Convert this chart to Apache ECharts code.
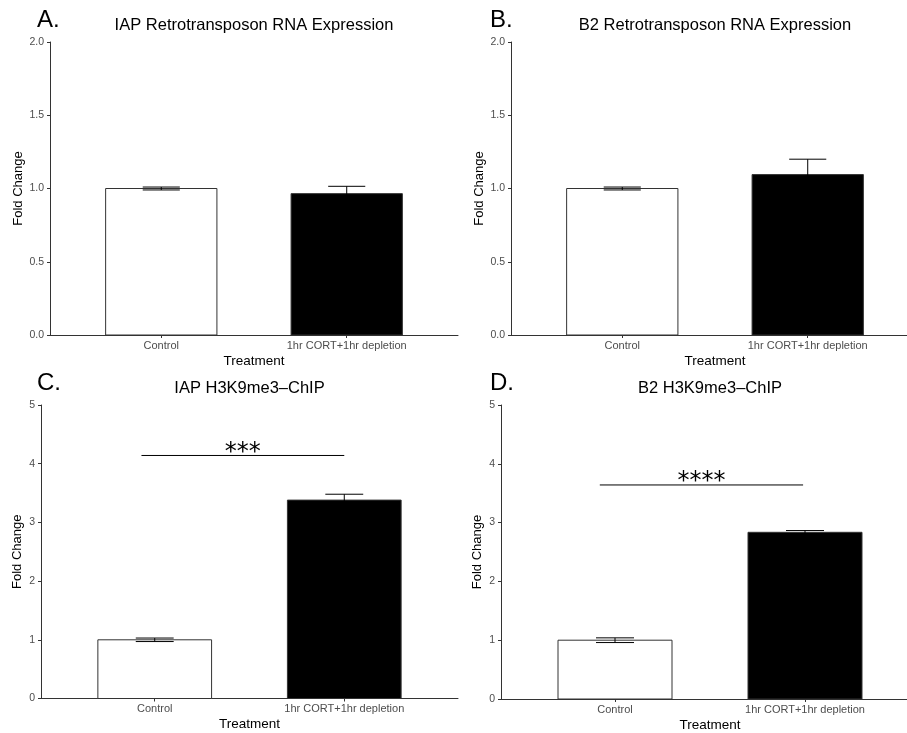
<!DOCTYPE html>
<html>
<head>
<meta charset="utf-8">
<script src="https://cdn.jsdelivr.net/npm/echarts@6/dist/echarts.min.js"></script>
<style>html,body{margin:0;padding:0;background:#fff;}#chart{width:907px;height:733px;}</style>
</head>
<body>
<div id="chart"></div>
<script>
// ---- data ----
const categories = ['Control', '1hr CORT+1hr depletion'];
const catPositions = [1, 2];
const panelLetters = ['A.', 'B.', 'C.', 'D.'];
const panelTitles = ['IAP Retrotransposon RNA Expression', 'B2 Retrotransposon RNA Expression', 'IAP H3K9me3\u2013ChIP', 'B2 H3K9me3\u2013ChIP'];
const iapRnaMean = [1.00, 0.965];
const iapRnaSE = [0.01, 0.05];
const b2RnaMean = [1.00, 1.095];
const b2RnaSE = [0.01, 0.105];
const iapChipMean = [1.00, 3.38];
const iapChipSE = [0.03, 0.10];
const b2ChipMean = [1.00, 2.835];
const b2ChipSE = [0.04, 0.03];
const rnaTicks = [0, 0.5, 1.0, 1.5, 2.0];
const chipTicks = [0, 1, 2, 3, 4, 5];
// significance brackets: [x start, x end, y, label]
const iapChipSig = [0.93, 2.0, 4.14, '***'];
const b2ChipSig = [0.92, 1.99, 3.64, '****'];

const FONT = 'Liberation Sans';
const BAR_HALF = 0.3;
const ERR_HALF = 0.1;
const barFills = ['#ffffff', '#000000'];

const panels = [
  {mean: iapRnaMean, se: iapRnaSE, ticks: rnaTicks, dec: 1, grid: {left: 50, top: 42, width: 408, height: 293}, nameGap: 25, sig: null},
  {mean: b2RnaMean, se: b2RnaSE, ticks: rnaTicks, dec: 1, grid: {left: 511, top: 42, width: 408, height: 293}, nameGap: 25, sig: null},
  {mean: iapChipMean, se: iapChipSE, ticks: chipTicks, dec: 0, grid: {left: 41, top: 405, width: 417, height: 293.5}, nameGap: 17, sig: iapChipSig},
  {mean: b2ChipMean, se: b2ChipSE, ticks: chipTicks, dec: 0, grid: {left: 501, top: 405, width: 418, height: 294}, nameGap: 17, sig: b2ChipSig}
];

const grids = [], xAxes = [], yAxes = [], series = [], graphics = [];
panels.forEach((p, i) => {
  grids.push(Object.assign({outerBoundsMode: 'none', containLabel: false}, p.grid));
  xAxes.push({
    type: 'value', gridIndex: i, min: 0.4, max: 2.6,
    name: 'Treatment', nameLocation: 'middle', nameGap: 19,
    nameTextStyle: {fontFamily: FONT, fontSize: 13.5, color: '#000'},
    axisLine: {show: true, onZero: false, lineStyle: {color: '#333', width: 1}},
    axisTick: {show: true, customValues: catPositions, length: 3, lineStyle: {color: '#333'}},
    axisLabel: {customValues: catPositions, margin: 5, fontFamily: FONT, fontSize: 11, color: '#4d4d4d',
      formatter: v => categories[Math.round(v) - 1]},
    splitLine: {show: false}
  });
  const tmax = p.ticks[p.ticks.length - 1];
  yAxes.push({
    type: 'value', gridIndex: i, min: p.ticks[0], max: tmax, interval: p.ticks[1] - p.ticks[0],
    name: 'Fold Change', nameLocation: 'middle', nameGap: p.nameGap,
    nameTextStyle: {fontFamily: FONT, fontSize: 13, color: '#000'},
    axisLine: {show: true, lineStyle: {color: '#333', width: 1}},
    axisTick: {show: true, length: 3, lineStyle: {color: '#333'}},
    axisLabel: {margin: 6, fontFamily: FONT, fontSize: 10.5, color: '#4d4d4d', formatter: v => v.toFixed(p.dec)},
    splitLine: {show: false}
  });
  const data = catPositions.map((x, k) => [x, p.mean[k], p.se[k]]);
  series.push({
    type: 'custom', xAxisIndex: i, yAxisIndex: i, data: data, z: 2,
    renderItem: (params, api) => {
      const x = api.value(0), y = api.value(1);
      const a = api.coord([x - BAR_HALF, y]);
      const b = api.coord([x + BAR_HALF, 0]);
      return {type: 'rect', shape: {x: a[0], y: a[1], width: b[0] - a[0], height: b[1] - a[1]},
        style: {fill: barFills[params.dataIndex], stroke: '#333', lineWidth: 1}};
    }
  });
  series.push({
    type: 'custom', xAxisIndex: i, yAxisIndex: i, data: data, z: 3,
    renderItem: (params, api) => {
      const x = api.value(0), y = api.value(1), e = api.value(2);
      const top = api.coord([x, y + e]), bot = api.coord([x, y - e]);
      const l = api.coord([x - ERR_HALF, y])[0], r = api.coord([x + ERR_HALF, y])[0];
      const st = {stroke: '#000', lineWidth: 1};
      return {type: 'group', children: [
        {type: 'line', shape: {x1: top[0], y1: top[1], x2: bot[0], y2: bot[1]}, style: st},
        {type: 'line', shape: {x1: l, y1: top[1], x2: r, y2: top[1]}, style: st},
        {type: 'line', shape: {x1: l, y1: bot[1], x2: r, y2: bot[1]}, style: st}
      ]};
    }
  });
  if (p.sig) {
    series.push({
      type: 'custom', xAxisIndex: i, yAxisIndex: i, data: [p.sig.slice(0, 3)], z: 4,
      renderItem: (params, api) => {
        const a = api.coord([api.value(0), api.value(2)]);
        const b = api.coord([api.value(1), api.value(2)]);
        return {type: 'group', children: [
          {type: 'line', shape: {x1: a[0], y1: a[1], x2: b[0], y2: b[1]}, style: {stroke: '#000', lineWidth: 1}},
          {type: 'text', x: (a[0] + b[0]) / 2, y: a[1] - 3,
            style: {text: p.sig[3], fontFamily: 'DejaVu Sans', fontSize: 24, fill: '#000', align: 'center', verticalAlign: 'middle'}}
        ]};
      }
    });
  }
  const g = p.grid;
  graphics.push({type: 'text', x: g.left + g.width / 2, y: g.top - 17,
    style: {text: panelTitles[i], fontFamily: FONT, fontSize: 16.5, fill: '#000', align: 'center', verticalAlign: 'middle'}});
  graphics.push({type: 'text', x: (i % 2 === 0 ? 37 : 490), y: g.top - 21.5,
    style: {text: panelLetters[i], fontFamily: FONT, fontSize: 24, fill: '#000', align: 'left', verticalAlign: 'middle'}});
});

const chart = echarts.init(document.getElementById('chart'), null, {renderer: 'canvas'});
chart.setOption({
  backgroundColor: '#fff',
  animation: false,
  grid: grids,
  xAxis: xAxes,
  yAxis: yAxes,
  series: series,
  graphic: graphics
});
</script>
</body>
</html>
